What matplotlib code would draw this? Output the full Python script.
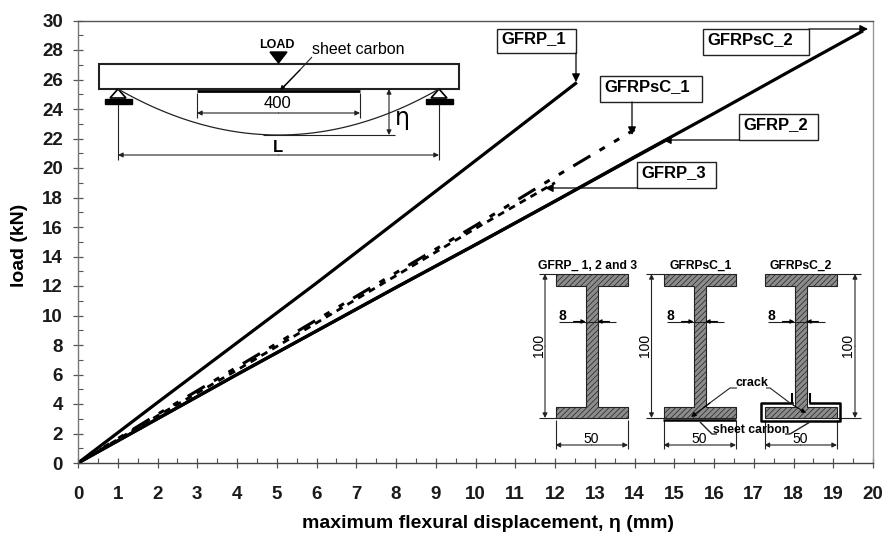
#!/usr/bin/env python3
# -*- coding: utf-8 -*-
import numpy as np
import matplotlib
matplotlib.use('Agg')
import matplotlib.pyplot as plt
from matplotlib.patches import Rectangle, Polygon

plt.rcParams['font.family'] = ['Liberation Sans', 'DejaVu Sans']
plt.rcParams['hatch.linewidth'] = 0.5

# curves
gfrp_1_x = [0, 2, 4, 6, 8, 10, 12.55]
gfrp_1_y = [0, 4.1, 8.15, 12.2, 16.35, 20.5, 25.8]
gfrp_2_x = [0, 2, 4, 6, 8, 10, 12, 14.8]
gfrp_2_y = [0, 3.0, 6.0, 8.95, 11.9, 14.8, 17.75, 21.9]
gfrpsc_2_x = [0, 2, 4, 6, 8, 10, 12, 14, 16, 18, 19.75]
gfrpsc_2_y = [0, 3.0, 6.0, 8.95, 11.9, 14.8, 17.75, 20.75, 23.7, 26.7, 29.3]
gfrpsc_1_x = [0, 2, 4, 6, 8, 10, 12, 14]
gfrpsc_1_y = [0, 3.3, 6.5, 9.7, 12.9, 16.1, 19.4, 22.6]
gfrp_3_x = [0, 2, 4, 6, 8, 10, 12]
gfrp_3_y = [0, 3.2, 6.3, 9.5, 12.7, 15.9, 19.0]

x_ticks = np.arange(0, 21, 1)
y_ticks = np.arange(0, 31, 2)

# label boxes: name, box left/top/right/bottom, arrow start, arrow end (pixels)
boxes = [
    ('GFRP_1', (497, 29, 576, 53), (576, 53), (576, 82)),
    ('GFRPsC_2', (703, 29, 809, 55), (809, 29), (868, 29)),
    ('GFRPsC_1', (600, 76, 702, 102), (632, 102), (632, 135)),
    ('GFRP_2', (739, 114, 818, 140), (739, 140), (663, 140)),
    ('GFRP_3', (637, 162, 716, 188), (637, 188), (545, 188)),
]


def arrow(ov, a, b, lw=0.8, size=7, color='k'):
    ov.annotate('', xy=b, xytext=a, arrowprops=dict(arrowstyle='-|>', lw=lw, color=color,
                mutation_scale=size, shrinkA=0, shrinkB=0))


def dim(ov, a, b):
    arrow(ov, ((a[0] + b[0]) / 2, (a[1] + b[1]) / 2), a, lw=0.8, size=7, color='#222222')
    arrow(ov, ((a[0] + b[0]) / 2, (a[1] + b[1]) / 2), b, lw=0.8, size=7, color='#222222')


def line(ov, xs, ys, lw=0.8, color='#222222'):
    ov.plot(xs, ys, color=color, lw=lw, solid_capstyle='butt')


def draw_beam(ov):
    ov.add_patch(Rectangle((99, 63.5), 360, 25, fc='w', ec='#222222', lw=1.5))
    ov.add_patch(Polygon([(270, 52), (287, 52), (278.5, 63)], fc='k', ec='k'))
    ov.text(277, 45, 'LOAD', fontsize=9, fontweight='bold', ha='center', va='center')
    ov.text(358, 49, 'sheet carbon', fontsize=11.5, ha='center', va='center')
    line(ov, [312, 283], [57, 88])
    arrow(ov, (300, 70), (280, 90), size=6)
    line(ov, [197, 360], [91, 91], lw=2, color='k')

    for sx in (118, 439):
        ov.add_patch(Polygon([(sx, 89), (sx - 8, 98), (sx + 8, 98)], fc='w', ec='k', lw=1.2))
        ov.add_patch(Rectangle((sx - 13.5, 98.5), 27, 5, fc='k', ec='k'))
        line(ov, [sx, sx], [104, 160])

    t = np.linspace(-1, 1, 60)
    ov.plot(278.5 + 160.5 * t, 135 - 46 * t ** 2, color='#222222', lw=0.9)

    line(ov, [197, 197], [93, 118])
    line(ov, [360, 360], [93, 118])
    dim(ov, (197, 113), (360, 113))
    ov.text(278, 104, '400', fontsize=12, ha='center', va='center')
    dim(ov, (118, 155), (439, 155))
    ov.text(278, 147, 'L', fontsize=12, fontweight='bold', ha='center', va='center')
    dim(ov, (389, 89), (389, 135))
    line(ov, [263, 395], [135, 135])
    ov.text(402, 118, '\u03b7', fontsize=17, ha='center', va='center', family='DejaVu Sans')


def draw_section(ov, x0, title, title_x, dim_x, txt_x):
    left, right = x0, x0 + 72.5
    mid_l, mid_r = x0 + 30, x0 + 42
    pts = [(left, 274), (right, 274), (right, 285.5), (mid_r, 285.5), (mid_r, 406.5), (right, 406.5),
           (right, 418), (left, 418), (left, 406.5), (mid_l, 406.5), (mid_l, 285.5), (left, 285.5)]
    ov.add_patch(Polygon(pts, fc='#8c8c8c', ec='#222222', lw=0.8, hatch='//////'))
    ov.text(title_x, 266, title, fontsize=8.7, fontweight='bold', ha='center', va='center')

    # height dimension
    for yy in (274, 418):
        if dim_x < left:
            line(ov, [dim_x - 6, left], [yy, yy])
        else:
            line(ov, [right, dim_x + 6], [yy, yy])
    dim(ov, (dim_x, 274), (dim_x, 418))
    ov.text(txt_x, 345, '100', fontsize=10, rotation=90, ha='center', va='center')

    # web thickness
    line(ov, [x0 + 3, x0 + 60], [321.5, 321.5])
    arrow(ov, (x0 + 18, 321.5), (mid_l, 321.5), size=6)
    arrow(ov, (x0 + 54, 321.5), (mid_r, 321.5), size=6)
    ov.text(x0 + 7, 316, '8', fontsize=10, fontweight='bold', ha='center', va='center')

    # flange width
    line(ov, [left, left], [420, 449])
    line(ov, [right, right], [420, 449])
    dim(ov, (left, 445), (right, 445))
    ov.text(x0 + 36, 439, '50', fontsize=10, ha='center', va='center')


def draw_sections(ov):
    draw_section(ov, 555.5, 'GFRP_ 1, 2 and 3', 588, 545, 539)
    draw_section(ov, 663.5, 'GFRPsC_1', 701, 651.5, 645)
    draw_section(ov, 764.5, 'GFRPsC_2', 801, 855, 848)

    # carbon sheets
    line(ov, [663, 736], [420, 420], lw=1.8, color='k')
    ov.plot([792, 761, 761, 840, 840, 810], [403, 403, 421, 421, 403, 403], color='k', lw=1.8)
    line(ov, [792, 792], [393, 403], lw=1.5, color='k')
    line(ov, [810, 810], [393, 403], lw=1.5, color='k')

    # crack and sheet carbon leaders
    ov.text(752, 383, 'crack', fontsize=9, fontweight='bold', ha='center', va='center')
    line(ov, [737, 730, 703], [388, 388, 408])
    arrow(ov, (710, 403), (691, 417), size=7)
    line(ov, [766, 770, 790], [388, 388, 403])
    arrow(ov, (793, 405), (806, 413), size=6)
    ov.text(751, 430, 'sheet carbon', fontsize=8.8, fontweight='bold', ha='center', va='center')
    line(ov, [700, 712, 717], [422, 434, 434], lw=1.0)
    line(ov, [785, 790, 810], [434, 434, 422], lw=1.0)


def main():
    fig = plt.figure(figsize=(8.84, 5.37), dpi=100)
    ax = fig.add_axes([78 / 884, 1 - 463 / 537, 795 / 884, 442.5 / 537])

    ax.plot(gfrp_1_x, gfrp_1_y, color='k', lw=2.3, solid_capstyle='butt')
    ax.plot(gfrp_2_x, gfrp_2_y, color='k', lw=2.3, solid_capstyle='butt')
    ax.plot(gfrpsc_2_x, gfrpsc_2_y, color='k', lw=2.3, solid_capstyle='butt')
    ax.plot(gfrpsc_1_x, gfrpsc_1_y, color='k', lw=2.2, dashes=(6.5, 3.5, 2, 3.5, 2, 3.5))
    ax.plot(gfrp_3_x, gfrp_3_y, color='k', lw=2.0, dashes=(2.5, 2))

    ax.set_xlim(0, 20)
    ax.set_ylim(0, 30)
    ax.set_xticks(x_ticks)
    ax.set_yticks(y_ticks)
    ax.set_xticks(x_ticks[:-1] + 0.5, minor=True)
    ax.set_yticks(y_ticks[:-1] + 1, minor=True)
    ax.tick_params(which='major', direction='inout', length=7.5, width=0.9, color='#555555', labelsize=13.5)
    ax.tick_params(which='minor', direction='in', length=3.5, width=0.8, color='#555555')
    ax.tick_params(axis='x', which='major', pad=13)
    ax.tick_params(axis='y', which='major', pad=7)
    for lab in ax.get_xticklabels() + ax.get_yticklabels():
        lab.set_fontweight('bold')
        lab.set_color('#1a1a1a')
    for name, sp in ax.spines.items():
        sp.set_linewidth(1)
        sp.set_color({'left': '#777777', 'bottom': '#444444', 'top': '#555555', 'right': '#999999'}[name])

    # overlay in picture pixels for the sketches and label boxes
    ov = fig.add_axes([0, 0, 1, 1], facecolor='none')
    ov.set_xlim(0, 884)
    ov.set_ylim(537, 0)
    ov.axis('off')

    for name, (l, t, r, b), start, end in boxes:
        ov.add_patch(Rectangle((l, t), r - l, b - t, fc='w', ec='#222222', lw=1.0, zorder=3))
        ov.text(l + 4, (t + b) / 2 - 2, name, fontsize=12, fontweight='bold',
                ha='left', va='center', zorder=4)
        arrow(ov, start, end, lw=0.9, size=12)

    draw_beam(ov)
    draw_sections(ov)

    ov.text(488, 524, 'maximum flexural displacement, \u03b7 (mm)', fontsize=14, fontweight='bold',
            ha='center', va='center')
    ov.text(20, 245, 'load (kN)', fontsize=14, fontweight='bold', rotation=90, ha='center', va='center')

    fig.savefig('out.png', dpi=100)


if __name__ == '__main__':
    main()
